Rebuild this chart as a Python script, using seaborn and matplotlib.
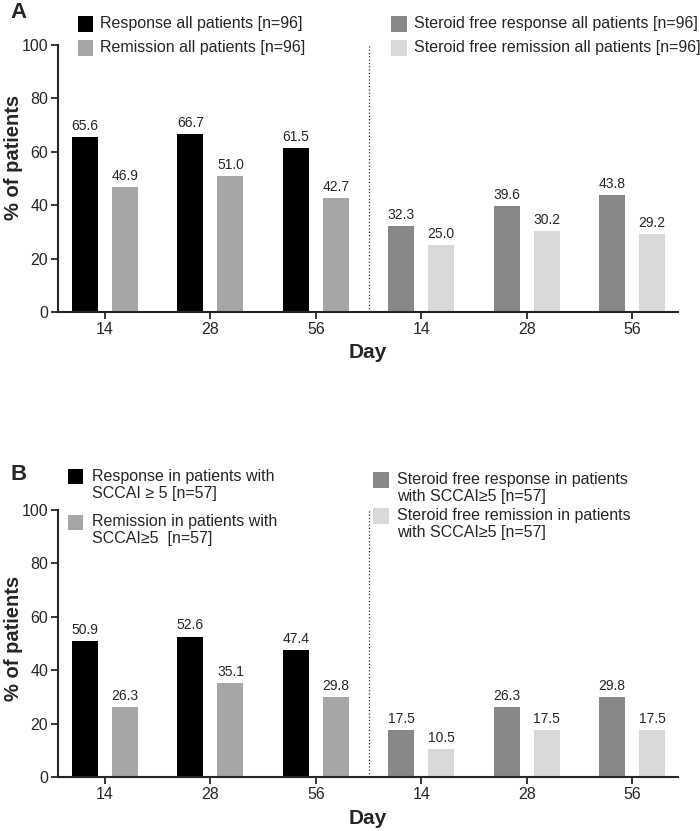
import pandas as pd
import seaborn as sns
import matplotlib.pyplot as plt
from matplotlib.patches import Rectangle

days = ['14', '28', '56']

# panel A (all patients, n=96)
a_response = [65.6, 66.7, 61.5]
a_remission = [46.9, 51.0, 42.7]
a_sf_response = [32.3, 39.6, 43.8]
a_sf_remission = [25.0, 30.2, 29.2]
a_labels = ['Response all patients [n=96]', 'Remission all patients [n=96]',
            'Steroid free response all patients [n=96]', 'Steroid free remission all patients [n=96]']

# panel B (SCCAI >= 5, n=57)
b_response = [50.9, 52.6, 47.4]
b_remission = [26.3, 35.1, 29.8]
b_sf_response = [17.5, 26.3, 29.8]
b_sf_remission = [10.5, 17.5, 17.5]
b_labels = ['Response in patients with\nSCCAI \u2265 5 [n=57]', 'Remission in patients with\nSCCAI\u22655  [n=57]',
            'Steroid free response in patients\nwith SCCAI\u22655 [n=57]', 'Steroid free remission in patients\nwith SCCAI\u22655 [n=57]']

colors = ['#000000', '#a6a6a6', '#878787', '#d9d9d9']

sns.set_style("ticks")
plt.rcParams['font.family'] = ['Liberation Sans', 'DejaVu Sans']
NARROW = ['Liberation Sans Narrow', 'Liberation Sans', 'DejaVu Sans']

W, H = 700, 831
fig = plt.figure(figsize=(W / 100, H / 100), dpi=100)


def make_df(resp, remi, sf_resp, sf_remi):
    rows = []
    for i, d in enumerate(days):
        rows.append({'slot': i, 'kind': 'first', 'value': resp[i]})
        rows.append({'slot': i, 'kind': 'second', 'value': remi[i]})
    for i, d in enumerate(days):
        rows.append({'slot': i + 3, 'kind': 'first', 'value': sf_resp[i]})
        rows.append({'slot': i + 3, 'kind': 'second', 'value': sf_remi[i]})
    return pd.DataFrame(rows)


def legend_item(x_sq, x_txt, y_c, color, text, sq=15):
    # y_c: pixel (from top) of first text line centre
    fig.add_artist(Rectangle(((x_sq) / W, 1 - (y_c + sq / 2) / H), sq / W, sq / H,
                             transform=fig.transFigure, facecolor=color, edgecolor='none'))
    fig.text(x_txt / W, 1 - (y_c - 8) / H, text, ha='left', va='top',
             fontsize=11.5, family=NARROW, linespacing=1.2)


def panel(top_px, df, letter, letter_y, ylab_y):
    bottom_px = top_px + 267
    ax = fig.add_axes([58 / W, 1 - bottom_px / H, 620 / W, 267 / H])
    sns.barplot(data=df, x='slot', y='value', hue='kind', order=list(range(6)),
                hue_order=['first', 'second'], palette=[colors[0], colors[1]],
                width=0.76, gap=0.35, linewidth=0, errorbar=None, legend=False, ax=ax)
    # recolour the steroid free bars
    for k, cont in enumerate(ax.containers):
        for i, bar in enumerate(cont):
            if i >= 3:
                bar.set_facecolor(colors[2 + k])
        ax.bar_label(cont, fmt='%.1f', padding=3, fontsize=10)

    ax.set_xlim(-0.446, 5.436)
    ax.set_ylim(0, 100)
    ax.set_yticks(range(0, 101, 20))
    ax.set_xticks(range(6))
    ax.set_xticklabels(days + days)
    ax.axvline(2.5, 0, 1, color='#333333', linestyle=':', linewidth=0.9)
    sns.despine(ax=ax)
    for s in ['left', 'bottom']:
        ax.spines[s].set_linewidth(1.5)
    ax.tick_params(axis='both', length=5, width=1.3, pad=2, labelsize=11.5)
    for lab in ax.get_xticklabels() + ax.get_yticklabels():
        lab.set_family(NARROW)
    ax.set_xlabel('')
    ax.set_ylabel('% of patients', fontsize=14.5, fontweight='bold')
    ax.yaxis.set_label_coords(-0.056, ylab_y)
    fig.text(368 / W, 1 - (bottom_px + 41) / H, 'Day', ha='center', va='center',
             fontsize=15, fontweight='bold', family=NARROW)
    fig.text(10 / W, 1 - letter_y / H, letter, ha='left', va='center',
             fontsize=16, fontweight='bold')
    return ax


panel(45, make_df(a_response, a_remission, a_sf_response, a_sf_remission), 'A', 12, 0.58)
legend_item(78, 100, 24, colors[0], a_labels[0])
legend_item(78, 100, 48, colors[1], a_labels[1])
legend_item(391, 414, 24, colors[2], a_labels[2], sq=16)
legend_item(391, 414, 48, colors[3], a_labels[3], sq=16)

panel(510, make_df(b_response, b_remission, b_sf_response, b_sf_remission), 'B', 475, 0.52)
legend_item(68, 92, 477, colors[0], b_labels[0])
legend_item(68, 92, 522, colors[1], b_labels[1])
legend_item(373, 397, 480, colors[2], b_labels[2], sq=16)
legend_item(373, 397, 516, colors[3], b_labels[3], sq=16)

fig.savefig('out.png', dpi=100)
